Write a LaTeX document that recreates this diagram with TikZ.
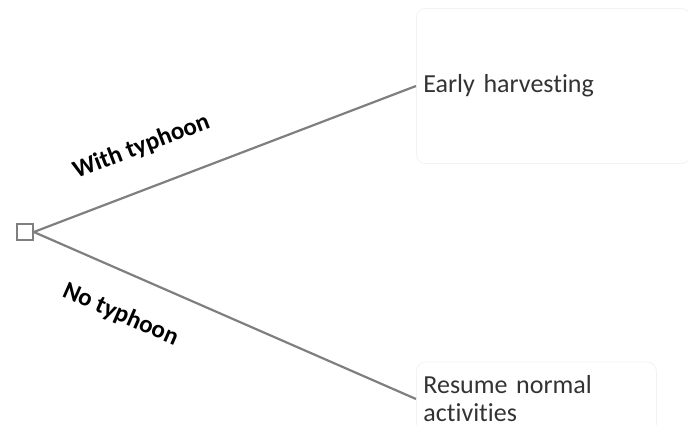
\documentclass[tikz,border=0pt]{standalone}
\usepackage{fontspec}
\setmainfont{Carlito}[Ligatures=NoCommon]
\usetikzlibrary{positioning}
\definecolor{branch}{HTML}{7F7F7F}
\definecolor{outtext}{HTML}{333333}
\definecolor{faintbox}{HTML}{F2F2F2}

\begin{document}
\begin{tikzpicture}[x=1pt,y=1pt,
  decision/.style={draw=branch, line width=1.6pt, fill=white, minimum size=16pt, inner sep=0pt},
  outcome/.style={draw=faintbox, line width=0.8pt, rounded corners=9pt, anchor=west,
    text=outtext, font=\fontsize{26}{28}\selectfont, align=left, inner xsep=7pt},
  edge/.style={draw=branch, line width=2.2pt},
  branchlabel/.style={font=\bfseries\fontsize{25}{27}\selectfont, sloped}]
  \useasboundingbox (0,0) rectangle (688,-425);

  % decision point and its two outcomes
  \node[decision] (root) at (25,-232) {};
  \node[outcome, text width=260pt, minimum height=155pt] (early) at (416,-86) {Early harvesting};
  \node[outcome, text width=226pt, minimum height=74pt] (resume) at (416,-399) {Resume normal\\activities};

  % branches
  \draw[edge] (root.east) -- node[branchlabel, pos=0.32, above=26pt] {With typhoon} (early.west);
  \draw[edge] (root.east) -- node[branchlabel, pos=0.27, below=26pt] {No typhoon} (resume.west);
\end{tikzpicture}
\end{document}
